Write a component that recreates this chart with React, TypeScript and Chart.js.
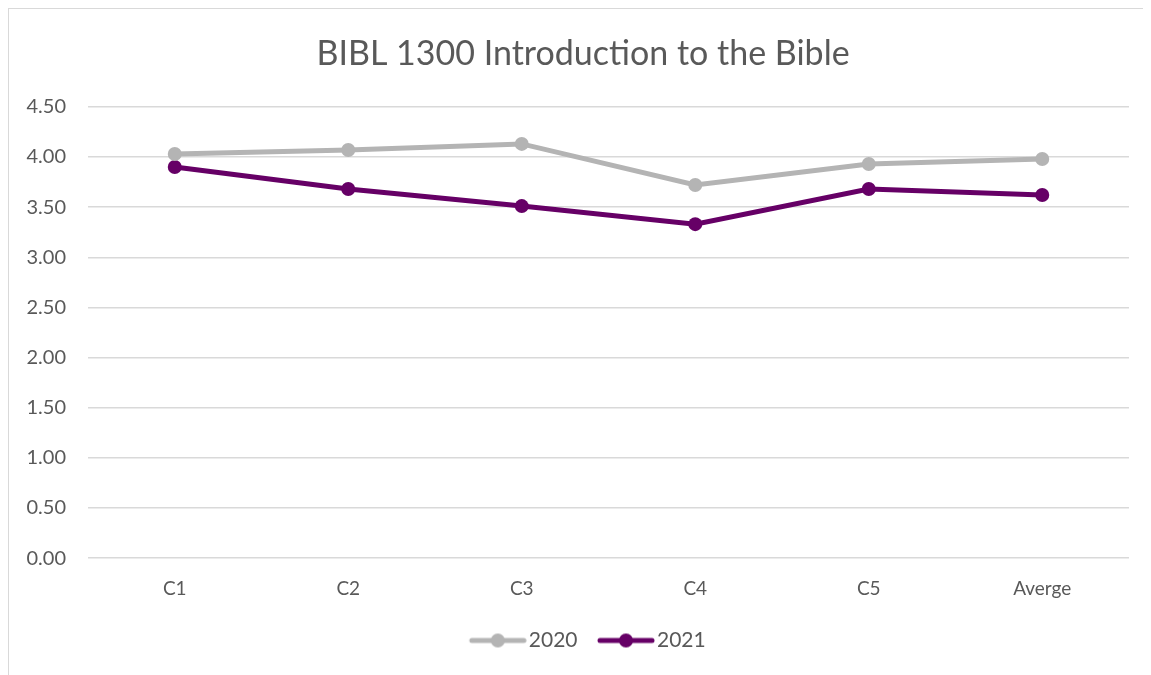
import React, { useEffect, useRef } from "react";
import { Chart, registerables } from "chart.js";

Chart.register(...registerables);

const categories = ["C1", "C2", "C3", "C4", "C5", "Averge"];
const series2020 = [4.03, 4.07, 4.13, 3.72, 3.93, 3.98];
const series2021 = [3.9, 3.68, 3.51, 3.33, 3.68, 3.62];
const seriesNames = ["2020", "2021"];
const titleText = "BIBL 1300 Introduction to the Bible";

const GRAY = "#b4b4b4";
const PURPLE = "#660066";
const TEXT = "#595959";
const FONT = "Lato, 'Open Sans', sans-serif";

function legendIcon(color: string): HTMLCanvasElement {
  const c = document.createElement("canvas");
  c.width = 75;
  c.height = 16;
  const ctx = c.getContext("2d")!;
  ctx.strokeStyle = color;
  ctx.lineWidth = 5;
  ctx.lineCap = "round";
  ctx.beginPath();
  ctx.moveTo(20, 8);
  ctx.lineTo(72, 8);
  ctx.stroke();
  ctx.fillStyle = color;
  ctx.beginPath();
  ctx.arc(46, 8, 7, 0, Math.PI * 2);
  ctx.fill();
  return c;
}

export default function App() {
  const ref = useRef<HTMLCanvasElement | null>(null);
  useEffect(() => {
    document.body.style.overflow = "hidden";
    const icons = [legendIcon(GRAY), legendIcon(PURPLE)];
    const chart = new Chart(ref.current!, {
      type: "line",
      data: {
        labels: categories,
        datasets: [
          {
            label: seriesNames[0],
            data: series2020,
            borderColor: GRAY,
            backgroundColor: GRAY,
            borderWidth: 5,
            pointRadius: 7,
            pointHoverRadius: 7,
            pointBorderWidth: 0,
            tension: 0,
          },
          {
            label: seriesNames[1],
            data: series2021,
            borderColor: PURPLE,
            backgroundColor: PURPLE,
            borderWidth: 5,
            pointRadius: 7,
            pointHoverRadius: 7,
            pointBorderWidth: 0,
            tension: 0,
          },
        ],
      },
      options: {
        responsive: false,
        animation: false,
        layout: { padding: { left: 0, right: 0, top: 0, bottom: 26 } },
        plugins: {
          title: {
            display: true,
            text: titleText,
            color: TEXT,
            font: { family: FONT, size: 34, weight: "normal" },
            padding: { top: 25, bottom: 32 },
          },
          legend: {
            position: "bottom",
            labels: {
              usePointStyle: true,
              pointStyleWidth: 58,
              color: TEXT,
              font: { family: FONT, size: 21 },
              padding: 11,
              generateLabels: (ch: any) =>
                ch.data.datasets.map((ds: any, i: number) => ({
                  text: ds.label,
                  fillStyle: ds.borderColor,
                  strokeStyle: ds.borderColor,
                  lineWidth: 0,
                  pointStyle: icons[i],
                  hidden: false,
                  datasetIndex: i,
                  fontColor: TEXT,
                })),
            },
          },
          tooltip: { enabled: false },
        },
        scales: {
          x: {
            offset: true,
            grid: { display: false, drawTicks: false },
            border: { display: false },
            ticks: {
              color: TEXT,
              font: { family: FONT, size: 19 },
              padding: 19,
            },
          },
          y: {
            min: 0,
            max: 4.5,
            grid: { color: "#d9d9d9", lineWidth: 1.5, drawTicks: false },
            border: { display: false },
            ticks: {
              stepSize: 0.5,
              color: TEXT,
              font: { family: FONT, size: 20 },
              padding: 22,
              callback: (v: any) => Number(v).toFixed(2),
            },
            afterFit: (s: any) => {
              s.width = 79;
            },
          },
          yRight: {
            type: "linear",
            position: "right",
            display: true,
            grid: { display: false, drawTicks: false },
            border: { display: false },
            ticks: { display: false },
            afterFit: (s: any) => {
              s.width = 28;
            },
          },
        },
      },
    });
    return () => chart.destroy();
  }, []);
  return (
    <div
      style={{
        width: 1148,
        height: 680,
        border: "1px solid #d9d9d9",
        background: "#fff",
      }}
    >
      <canvas ref={ref} width={1148} height={678} />
    </div>
  );
}
